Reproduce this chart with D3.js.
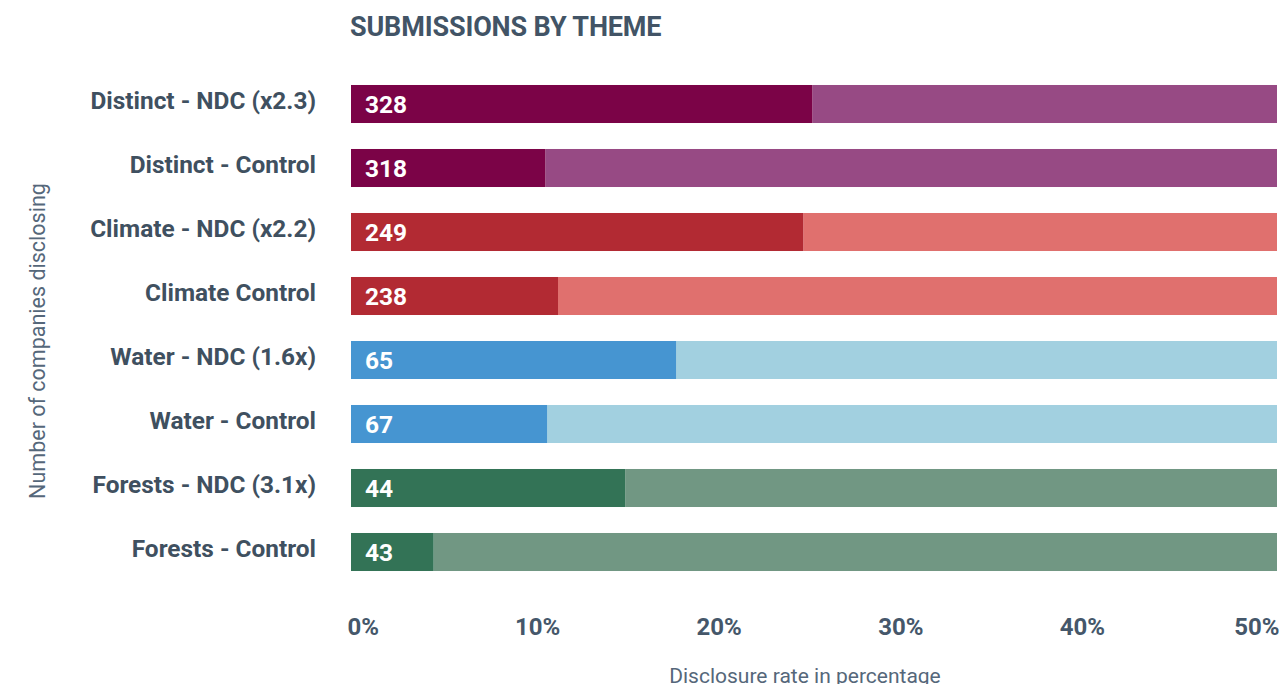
<!DOCTYPE html>
<html>
<head>
<meta charset="utf-8">
<script src="https://cdn.jsdelivr.net/npm/d3@7"></script>
<style>
  html, body { margin: 0; padding: 0; background: #fff; }
  svg { display: block; font-family: Roboto, "Noto Sans", sans-serif; }
</style>
</head>
<body>
<svg id="chart" width="1281" height="684"></svg>
<script>
// Submissions by theme: share of companies disclosing (percent) and company counts
const categories = [
  "Distinct - NDC (x2.3)",
  "Distinct - Control",
  "Climate - NDC (x2.2)",
  "Climate Control",
  "Water - NDC (1.6x)",
  "Water - Control",
  "Forests - NDC (3.1x)",
  "Forests - Control"
];
const disclosureRate = [25.4, 10.7, 24.9, 11.4, 17.9, 10.8, 15.1, 4.55];
const companyCounts = [328, 318, 249, 238, 65, 67, 44, 43];
const theme = ["distinct", "distinct", "climate", "climate", "water", "water", "forests", "forests"];
const xTicks = [0, 10, 20, 30, 40, 50];

const darkColor = { distinct: "#7b0347", climate: "#b22a33", water: "#4695d1", forests: "#337356" };
const lightColor = { distinct: "#974a84", climate: "#e0706e", water: "#a2d0e0", forests: "#719783" };

const rows = categories.map((c, i) => ({
  cat: c, rate: disclosureRate[i], count: companyCounts[i], theme: theme[i]
}));

const svg = d3.select("#chart");
const textColor = "#3f5060";

const x = d3.scaleLinear().domain([0, 50]).range([351, 1259]);
const y = d3.scaleBand().domain(categories).range([72, 584]).paddingInner(0.406).paddingOuter(0.203);

// plot clip: the remainder of each bar runs to 100% and is cut at the plot edge
svg.append("clipPath").attr("id", "plot-clip")
  .append("rect").attr("x", x(0)).attr("y", 0).attr("width", 1277 - x(0)).attr("height", 684);

// title
svg.append("text")
  .attr("x", x(0) - 1).attr("y", 36)
  .attr("fill", "#425466")
  .attr("font-size", 27).attr("font-weight", 700)
  .attr("letter-spacing", -0.15)
  .text("SUBMISSIONS BY THEME");

const bars = svg.append("g").attr("clip-path", "url(#plot-clip)");

// not-disclosing remainder
bars.selectAll("rect.rest").data(rows).join("rect")
  .attr("class", "rest")
  .attr("x", d => x(d.rate))
  .attr("y", d => y(d.cat))
  .attr("width", d => x(100) - x(d.rate))
  .attr("height", y.bandwidth())
  .attr("fill", d => lightColor[d.theme]);

// disclosing share
bars.selectAll("rect.rate").data(rows).join("rect")
  .attr("class", "rate")
  .attr("x", x(0))
  .attr("y", d => y(d.cat))
  .attr("width", d => x(d.rate) - x(0))
  .attr("height", y.bandwidth())
  .attr("fill", d => darkColor[d.theme]);

// company counts inside bars
svg.selectAll("text.count").data(rows).join("text")
  .attr("class", "count")
  .attr("x", x(0) + 14)
  .attr("y", d => y(d.cat) + y.bandwidth() / 2 + 8.5)
  .attr("fill", "#fff")
  .attr("font-size", 24.5).attr("font-weight", 700)
  .text(d => d.count);

// category axis
const yAxis = svg.append("g")
  .attr("transform", `translate(${x(0)},0)`)
  .call(d3.axisLeft(y).tickSize(0).tickPadding(35));
yAxis.select(".domain").remove();
yAxis.selectAll("text")
  .attr("fill", textColor)
  .attr("font-family", "Roboto, sans-serif")
  .attr("font-size", 24.4).attr("font-weight", 700)
  .attr("dy", "0.22em");

// percentage axis
const xAxis = svg.append("g")
  .attr("transform", "translate(0,612)")
  .call(d3.axisBottom(x).tickValues(xTicks).tickSize(0).tickPadding(0).tickFormat(d => d + "%"));
xAxis.select(".domain").remove();
xAxis.selectAll("text")
  .attr("fill", "#45576a")
  .attr("font-family", "Roboto, sans-serif")
  .attr("font-size", 24).attr("font-weight", 700)
  .attr("dy", "0.95em")
  .attr("dx", 4.5);
xAxis.selectAll(".tick").filter(d => d === xTicks[0]).select("text")
  .attr("text-anchor", "start").attr("dx", -4);
xAxis.selectAll(".tick").filter(d => d === xTicks[xTicks.length - 1]).select("text")
  .attr("text-anchor", "end").attr("dx", 0).attr("x", 1279 - x(50));

// axis titles
svg.append("text")
  .attr("x", (x(0) + x(50)) / 2).attr("y", 683)
  .attr("text-anchor", "middle")
  .attr("fill", "#55677a")
  .attr("font-size", 21)
  .text("Disclosure rate in percentage");

svg.append("text")
  .attr("transform", `translate(45,${(y.range()[0] + y.range()[1]) / 2 + 13}) rotate(-90)`)
  .attr("text-anchor", "middle")
  .attr("fill", "#55677a")
  .attr("font-size", 21.5)
  .text("Number of companies disclosing");
</script>
</body>
</html>
